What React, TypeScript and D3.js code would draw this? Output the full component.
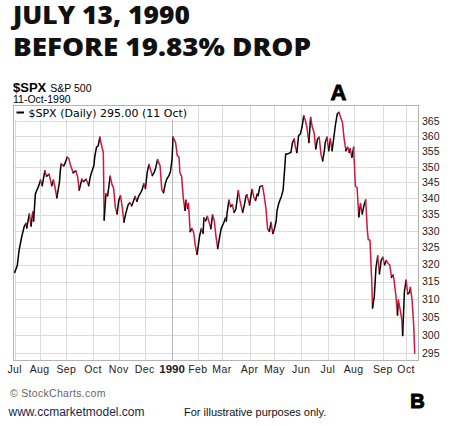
import React from "react";
import * as d3 from "d3";

// S&P 500 daily closes, Jul 1989 - Oct 1990
const dates1989 = [
  "1989-07-03", "1989-07-06", "1989-07-08", "1989-07-11", "1989-07-14", "1989-07-16",
  "1989-07-17", "1989-07-20", "1989-07-22", "1989-07-24", "1989-07-25", "1989-07-27",
  "1989-07-31", "1989-08-02", "1989-08-04", "1989-08-07", "1989-08-09", "1989-08-12",
  "1989-08-15", "1989-08-17", "1989-08-19", "1989-08-21", "1989-08-24", "1989-08-25",
  "1989-08-26", "1989-08-29", "1989-08-31", "1989-09-02", "1989-09-04", "1989-09-06",
  "1989-09-09", "1989-09-12", "1989-09-14", "1989-09-16", "1989-09-19", "1989-09-21",
  "1989-09-24", "1989-09-27", "1989-09-29", "1989-10-01", "1989-10-03", "1989-10-04",
  "1989-10-06", "1989-10-08", "1989-10-10", "1989-10-12", "1989-10-14", "1989-10-15",
  "1989-10-17", "1989-10-19", "1989-10-22", "1989-10-24", "1989-10-26", "1989-10-28",
  "1989-10-30", "1989-11-01", "1989-11-03", "1989-11-05", "1989-11-07", "1989-11-09",
  "1989-11-11", "1989-11-12", "1989-11-14", "1989-11-16", "1989-11-18", "1989-11-20",
  "1989-11-22", "1989-11-24", "1989-11-26", "1989-11-28", "1989-11-30", "1989-12-02",
  "1989-12-04", "1989-12-06", "1989-12-08", "1989-12-10", "1989-12-12", "1989-12-14",
  "1989-12-16", "1989-12-19", "1989-12-21", "1989-12-23", "1989-12-25", "1989-12-27",
  "1989-12-29", "1989-12-31",
];
const closes1989 = [
  317.7, 319.7, 324.1, 328.1, 331.3, 332.3,
  330.9, 335.2, 331.5, 335.8, 333.0, 341.4,
  344.0, 345.7, 344.0, 348.7, 347.0, 347.6,
  344.0, 345.7, 343.2, 340.2, 345.1, 348.7,
  350.9, 350.3, 351.5, 353.1, 352.6, 350.3,
  348.1, 348.7, 347.0, 342.6, 346.0, 345.3,
  346.0, 344.0, 347.0, 348.7, 350.3, 353.1,
  356.3, 356.8, 359.6, 356.8, 354.6, 333.3,
  341.4, 340.8, 347.0, 344.4, 343.2, 337.2,
  335.2, 339.4, 340.8, 337.2, 332.7, 335.2,
  337.2, 338.1, 338.6, 337.7, 339.1, 340.6,
  339.1, 340.6, 341.6, 342.6, 344.6, 343.1,
  348.1, 350.7, 349.0, 347.2, 348.1, 349.7,
  352.3, 350.3, 342.6, 341.8, 344.6, 346.2,
  347.0, 348.4,
];

const dates1990 = [
  "1990-01-02", "1990-01-03", "1990-01-06", "1990-01-08", "1990-01-10", "1990-01-11",
  "1990-01-13", "1990-01-15", "1990-01-17", "1990-01-18", "1990-01-20", "1990-01-21",
  "1990-01-23", "1990-01-25", "1990-01-27", "1990-01-29", "1990-01-31", "1990-02-03",
  "1990-02-05", "1990-02-07", "1990-02-08", "1990-02-10", "1990-02-12", "1990-02-14",
  "1990-02-16", "1990-02-18", "1990-02-20", "1990-02-22", "1990-02-24", "1990-02-26",
  "1990-02-28", "1990-03-03", "1990-03-05", "1990-03-06", "1990-03-07", "1990-03-09",
  "1990-03-11", "1990-03-13", "1990-03-15", "1990-03-17", "1990-03-20", "1990-03-22",
  "1990-03-25", "1990-03-27", "1990-03-29", "1990-03-30", "1990-04-02", "1990-04-04",
  "1990-04-05", "1990-04-07", "1990-04-09", "1990-04-11", "1990-04-12", "1990-04-14",
  "1990-04-17", "1990-04-19", "1990-04-21", "1990-04-23", "1990-04-25", "1990-04-27",
  "1990-04-29", "1990-05-01", "1990-05-03", "1990-05-04", "1990-05-06", "1990-05-09",
  "1990-05-11", "1990-05-13", "1990-05-14", "1990-05-16", "1990-05-18", "1990-05-20",
  "1990-05-22", "1990-05-24", "1990-05-25", "1990-05-27", "1990-05-29", "1990-05-31",
  "1990-06-02", "1990-06-04", "1990-06-06", "1990-06-08", "1990-06-10", "1990-06-12",
  "1990-06-14", "1990-06-16", "1990-06-18", "1990-06-20", "1990-06-22", "1990-06-24",
  "1990-06-26", "1990-06-28", "1990-06-29", "1990-07-01", "1990-07-03", "1990-07-05",
  "1990-07-07", "1990-07-09", "1990-07-11", "1990-07-13", "1990-07-15", "1990-07-17",
  "1990-07-19", "1990-07-21", "1990-07-23", "1990-07-25", "1990-07-27", "1990-07-28",
  "1990-07-30", "1990-08-01", "1990-08-03", "1990-08-05", "1990-08-07", "1990-08-09",
  "1990-08-11", "1990-08-13", "1990-08-15", "1990-08-17", "1990-08-18", "1990-08-20",
  "1990-08-22", "1990-08-23", "1990-08-25", "1990-08-27", "1990-08-29", "1990-08-31",
  "1990-09-02", "1990-09-04", "1990-09-06", "1990-09-08", "1990-09-10", "1990-09-12",
  "1990-09-14", "1990-09-16", "1990-09-17", "1990-09-19", "1990-09-21", "1990-09-22",
  "1990-09-24", "1990-09-26", "1990-09-27", "1990-09-29", "1990-10-01", "1990-10-03",
  "1990-10-05", "1990-10-06", "1990-10-08", "1990-10-10", "1990-10-11",
];
const closes1990 = [
  352.6, 359.7, 357.9, 353.6, 353.1, 348.1,
  347.0, 340.0, 336.3, 339.4, 336.9, 338.4,
  329.8, 330.7, 329.6, 325.5, 323.0, 328.6,
  330.7, 329.3, 334.0, 333.1, 334.4, 332.6,
  330.7, 334.9, 333.1, 328.3, 324.7, 327.8,
  330.7, 332.5, 333.9, 333.0, 335.7, 339.4,
  337.5, 338.0, 335.7, 336.6, 342.4, 339.1,
  335.7, 338.0, 340.9, 341.1, 338.0, 341.4,
  342.8, 340.4, 339.4, 341.4, 340.9, 343.7,
  344.0, 340.9, 337.0, 330.6, 329.9, 332.6,
  329.2, 330.7, 333.1, 336.3, 338.5, 340.6,
  342.6, 350.0, 354.1, 354.1, 354.4, 354.6,
  357.9, 359.0, 356.8, 354.6, 360.1, 360.7,
  362.9, 366.8, 365.1, 362.3, 357.9, 366.2,
  362.9, 361.2, 355.8, 359.0, 359.6, 354.1,
  351.9, 355.2, 357.9, 359.6, 355.2, 359.0,
  355.2, 359.6, 364.0, 367.4, 367.9, 366.2,
  364.6, 359.0, 355.2, 356.3, 354.6, 355.8,
  353.1, 356.3, 343.9, 343.4, 334.3, 338.3,
  335.2, 337.8, 339.5, 330.0, 327.4, 327.2,
  315.4, 307.5, 310.7, 319.1, 322.5, 317.3,
  321.2, 322.1, 319.9, 321.2, 320.3, 319.9,
  316.3, 316.9, 315.4, 311.3, 305.5, 309.7,
  307.2, 304.2, 299.8, 312.1, 315.4, 311.5,
  311.9, 313.3, 309.7, 301.9, 295.0,
];

const monthTickDates = [
  "1989-07-03", "1989-08-01", "1989-09-01", "1989-10-02", "1989-11-01", "1989-12-01",
  "1990-01-02", "1990-02-01", "1990-03-01", "1990-04-02", "1990-05-01", "1990-06-01",
  "1990-07-02", "1990-08-01", "1990-09-04", "1990-10-01",
];
const monthLabels = [
  "Jul", "Aug", "Sep", "Oct", "Nov", "Dec", "1990", "Feb",
  "Mar", "Apr", "May", "Jun", "Jul", "Aug", "Sep", "Oct",
];
const priceTicks = [295, 300, 305, 310, 315, 320, 325, 330, 335, 340, 345, 350, 355, 360, 365];

const W = 452;
const H = 426;
const plot = { left: 13, right: 419, top: 105, bottom: 361 };
const UP = "#000000";
const DOWN = "#d4163c";
const axisFont = "'Liberation Sans', Arial, sans-serif";

type Pt = { date: Date; close: number };

export default function App() {
  const parse = d3.timeParse("%Y-%m-%d");
  const points: Pt[] = [
    ...dates1989.map((d, i) => ({ date: parse(d)!, close: closes1989[i] })),
    ...dates1990.map((d, i) => ({ date: parse(d)!, close: closes1990[i] })),
  ];

  const x = d3
    .scaleTime()
    .domain([parse("1989-07-01")!, parse("1990-10-16")!])
    .range([plot.left, plot.right]);
  const y = d3.scaleLog().domain([292.9, 370.4]).range([plot.bottom, plot.top]);

  const line = d3
    .line<Pt>()
    .x((d) => x(d.date))
    .y((d) => y(d.close));

  // split the series into runs of up days (black) and down days (red)
  const runs: { up: boolean; pts: Pt[] }[] = [];
  for (let i = 1; i < points.length; i++) {
    const up = points[i].close >= points[i - 1].close;
    const last = runs[runs.length - 1];
    if (last && last.up === up) last.pts.push(points[i]);
    else runs.push({ up, pts: [points[i - 1], points[i]] });
  }

  const last = points[points.length - 1];

  return (
    <svg
      width={W}
      height={H}
      style={{ position: "absolute", left: 0, top: 0, background: "#fff" }}
    >
      {/* headline */}
      <g fontFamily="'Open Sans', sans-serif" fontWeight={800} fill="#111">
        <text x={13} y={24} fontSize={25} textLength={177} lengthAdjust="spacingAndGlyphs">
          JULY 13, 1990
        </text>
        <text x={13} y={56} fontSize={25} textLength={298} lengthAdjust="spacingAndGlyphs">
          BEFORE 19.83% DROP
        </text>
      </g>

      {/* chart header */}
      <text x={13} y={92} fontFamily={axisFont} fontSize={13} fontWeight="bold">
        $SPX
        <tspan fontWeight="normal" fontSize={10.5} dx={4}>
          S&amp;P 500
        </tspan>
      </text>
      <text x={13} y={102.5} fontFamily={axisFont} fontSize={10.5}>
        11-Oct-1990
      </text>
      <text
        x={338.5}
        y={99.5}
        textAnchor="middle"
        fontFamily={axisFont}
        fontWeight="bold"
        fontSize={22}
        stroke="#000"
        strokeWidth={0.9}
      >
        A
      </text>

      {/* grid */}
      <g stroke="#dcdcdc" strokeWidth={1}>
        {priceTicks.map((p) => (
          <line
            key={p}
            x1={plot.left}
            x2={plot.right}
            y1={Math.round(y(p)) + 0.5}
            y2={Math.round(y(p)) + 0.5}
          />
        ))}
        {monthTickDates.map((d, i) => {
          const xx = Math.round(x(parse(d)!)) + 0.5;
          return (
            <line
              key={d}
              x1={xx}
              x2={xx}
              y1={plot.top}
              y2={plot.bottom}
              stroke={monthLabels[i] === "1990" ? "#b8b8b8" : "#dcdcdc"}
            />
          );
        })}
      </g>

      {/* legend box */}
      <rect x={14} y={106} width={178} height={13.5} fill="#fff" />
      <line x1={16.5} x2={24} y1={112.5} y2={112.5} stroke="#000" strokeWidth={2} />
      <text x={28.5} y={116.5} fontFamily="'DejaVu Sans', Verdana, sans-serif" fontSize={11}>
        $SPX (Daily) {last.close.toFixed(2)} (11 Oct)
      </text>

      {/* price line */}
      <g fill="none" strokeWidth={1.5} strokeLinejoin="round" strokeLinecap="round">
        {runs.map((r, i) => (
          <path key={i} d={line(r.pts) ?? ""} stroke={r.up ? UP : DOWN} />
        ))}
      </g>

      {/* frame */}
      <rect
        x={plot.left + 0.5}
        y={plot.top + 0.5}
        width={plot.right - plot.left - 1}
        height={plot.bottom - plot.top - 1}
        fill="none"
        stroke="#b4b4b4"
      />

      {/* price axis */}
      <g fontFamily={axisFont} fontSize={10.5} fill="#222">
        {priceTicks.map((p) => (
          <text key={p} x={422} y={y(p)} dy="0.36em">
            {p}
          </text>
        ))}
      </g>

      {/* month axis */}
      <g fontFamily={axisFont} fontSize={10.5} fill="#222" textAnchor="middle" letterSpacing={0.4}>
        {monthTickDates.map((d, i) => (
          <text
            key={d}
            x={x(parse(d)!)}
            y={372.5}
            fontWeight={monthLabels[i] === "1990" ? "bold" : "normal"}
            fontSize={monthLabels[i] === "1990" ? 11.5 : 10.5}
            letterSpacing={monthLabels[i] === "1990" ? 0 : 0.4}
          >
            {monthLabels[i]}
          </text>
        ))}
      </g>

      {/* footer */}
      <text x={10} y={397} fontFamily={axisFont} fontSize={10.5} fill="#666" letterSpacing={0.3}>
        © StockCharts.com
      </text>
      <text
        x={417.5}
        y={407.5}
        textAnchor="middle"
        fontFamily={axisFont}
        fontWeight="bold"
        fontSize={20}
        stroke="#000"
        strokeWidth={1.1}
      >
        B
      </text>
      <text x={8.5} y={416} fontFamily={axisFont} fontSize={12} fill="#1c2447">
        www.ccmarketmodel.com
      </text>
      <text x={184} y={416} fontFamily={axisFont} fontSize={11} fill="#111">
        For illustrative purposes only.
      </text>
    </svg>
  );
}
